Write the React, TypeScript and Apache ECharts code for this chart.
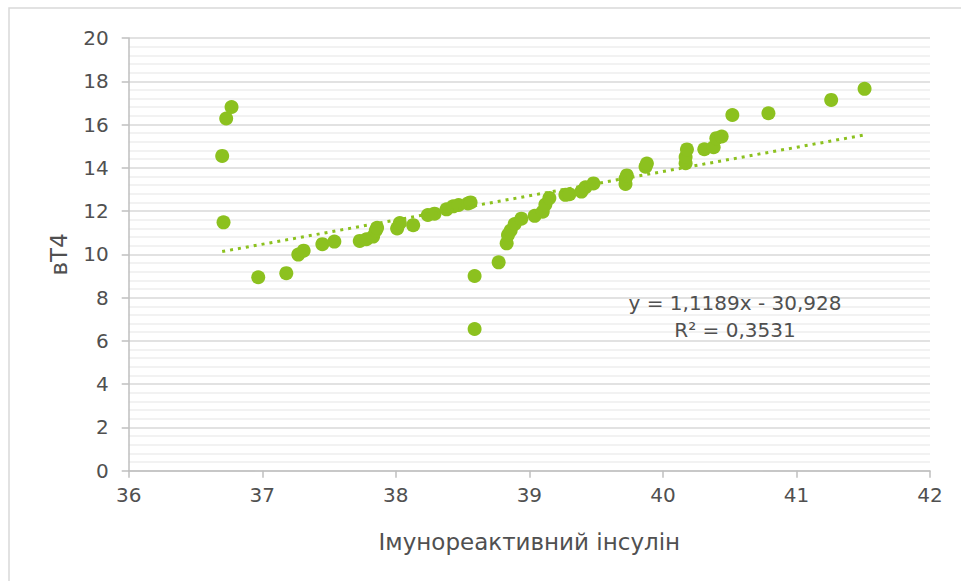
import React, { useEffect, useRef } from "react";
import * as echarts from "echarts";

const xValues = [
  36.7, 36.73, 36.77, 36.71, 36.97, 37.18, 37.27, 37.31, 37.45, 37.54,
  37.73, 37.78, 37.83, 37.85, 37.86, 38.01, 38.03, 38.13, 38.24, 38.29,
  38.38, 38.43, 38.47, 38.54, 38.56, 38.59, 38.59, 38.77, 38.83, 38.84,
  38.86, 38.89, 38.94, 39.04, 39.1, 39.12, 39.15, 39.27, 39.3, 39.39,
  39.42, 39.48, 39.72, 39.72, 39.73, 39.87, 39.88, 40.17, 40.17, 40.18,
  40.31, 40.38, 40.4, 40.44, 40.52, 40.79, 41.26, 41.51,
];
const yValues = [
  14.55, 16.28, 16.81, 11.48, 8.94, 9.13, 9.99, 10.17, 10.47, 10.59,
  10.62, 10.7, 10.82, 11.1, 11.23, 11.2, 11.45, 11.35, 11.82, 11.88,
  12.08, 12.22, 12.28, 12.35, 12.4, 6.55, 9.0, 9.63, 10.51, 10.9,
  11.1, 11.4, 11.65, 11.78, 11.97, 12.3, 12.6, 12.75, 12.78, 12.9,
  13.1, 13.28, 13.25, 13.5, 13.65, 14.05, 14.2, 14.21, 14.5, 14.85,
  14.86, 14.95, 15.37, 15.45, 16.44, 16.52, 17.14, 17.65,
];
const trendX = [36.7, 41.51];
const trendY = [10.13, 15.52];
const equationText = "y = 1,1189x - 30,928";
const r2Text = "R² = 0,3531";
const xAxisTitle = "Імунореактивний інсулін";
const yAxisTitle = "вТ4";

const GREEN = "#8CC11F";
const TEXT = "#505050";
const FONT = "DejaVu Sans";

export default function App() {
  const ref = useRef<HTMLDivElement>(null);
  useEffect(() => {
    if (!ref.current) return;
    const chart = echarts.init(ref.current, null, { renderer: "svg" });
    chart.setOption({
      animation: false,
      backgroundColor: "#ffffff",
      textStyle: { fontFamily: FONT },
      grid: { left: 128.7, right: 31, top: 38, bottom: 110.3 },
      xAxis: {
        type: "value",
        min: 36,
        max: 42,
        interval: 1,
        name: xAxisTitle,
        nameLocation: "middle",
        nameGap: 60,
        nameTextStyle: { color: TEXT, fontSize: 23, fontFamily: FONT },
        axisLine: { show: true, onZero: false, lineStyle: { color: "#bfbfbf", width: 1.5 } },
        axisTick: { show: true, length: 7, lineStyle: { color: "#bfbfbf", width: 1.5 } },
        axisLabel: { color: TEXT, fontSize: 20, margin: 14, fontFamily: FONT },
        splitLine: { show: false },
      },
      yAxis: {
        type: "value",
        min: 0,
        max: 20,
        interval: 2,
        name: yAxisTitle,
        nameLocation: "middle",
        nameGap: 58,
        nameTextStyle: { color: TEXT, fontSize: 23, fontFamily: FONT },
        axisLine: { show: true, lineStyle: { color: "#bfbfbf", width: 1.5 } },
        axisTick: { show: true, length: 7, lineStyle: { color: "#bfbfbf", width: 1.5 } },
        axisLabel: { color: TEXT, fontSize: 20, margin: 20, fontFamily: FONT },
        splitLine: { show: true, lineStyle: { color: "#d9d9d9", width: 1.5 } },
        minorTick: { show: false, splitNumber: 5 },
        minorSplitLine: { show: true, lineStyle: { color: "#eeeeee", width: 1.5 } },
      },
      graphic: [
        {
          type: "rect",
          silent: true,
          shape: { x: 9, y: 8, width: 2000, height: 2000 },
          style: { fill: "none", stroke: "#d9d9d9", lineWidth: 1.5 },
          z: 0,
        },
        {
          type: "text",
          x: 735,
          y: 303,
          style: {
            text: equationText,
            fill: TEXT,
            font: `20px '${FONT}'`,
            textAlign: "center",
            textVerticalAlign: "middle",
          },
          z: 10,
        },
        {
          type: "text",
          x: 735,
          y: 330,
          style: {
            text: r2Text,
            fill: TEXT,
            font: `20px '${FONT}'`,
            textAlign: "center",
            textVerticalAlign: "middle",
          },
          z: 10,
        },
      ],
      series: [
        {
          type: "scatter",
          data: xValues.map((x, i) => [x, yValues[i]]),
          symbol: "circle",
          symbolSize: 14,
          itemStyle: { color: GREEN, opacity: 1 },
          z: 3,
        },
        {
          type: "line",
          data: trendX.map((x, i) => [x, trendY[i]]),
          symbol: "none",
          lineStyle: { color: GREEN, width: 3, type: [3, 5] },
          z: 4,
        },
      ],
    });
    return () => chart.dispose();
  }, []);
  return (
    <div
      ref={ref}
      style={{ position: "fixed", left: 0, top: 0, width: 961, height: 581 }}
    />
  );
}
